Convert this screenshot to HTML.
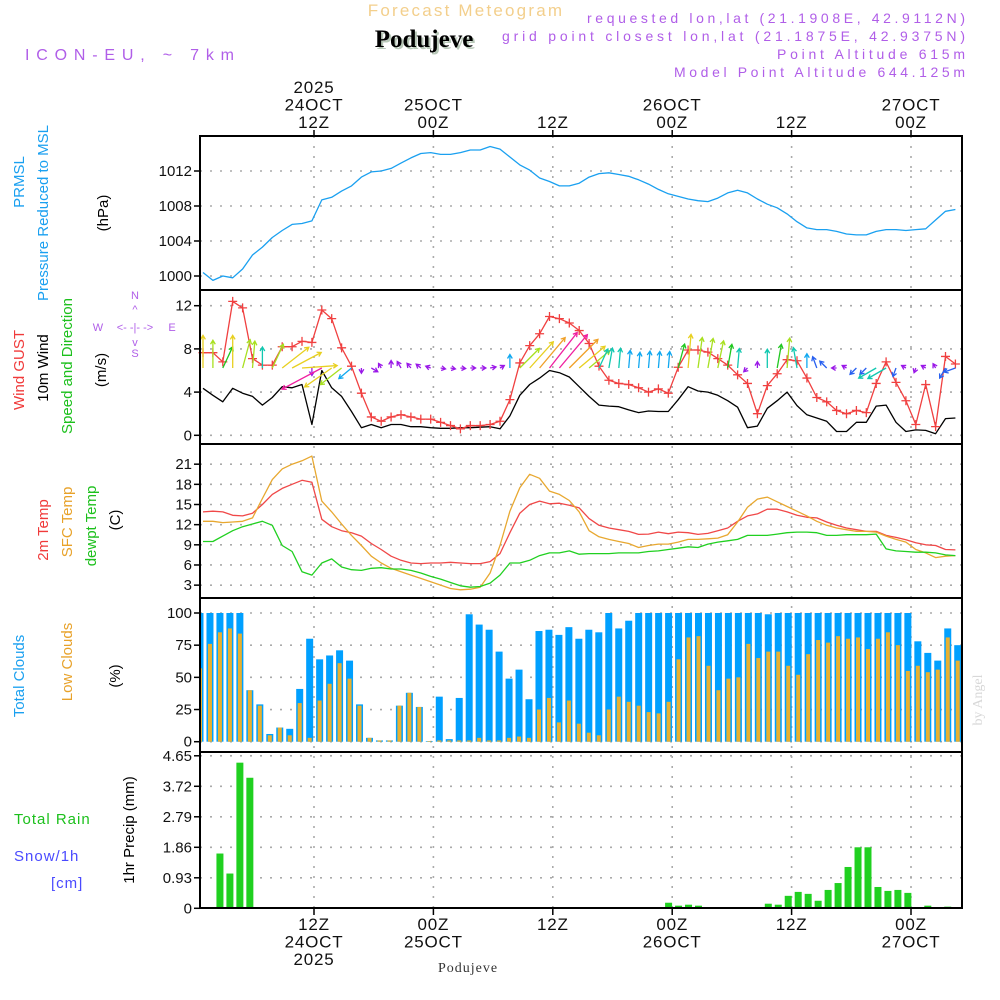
<!DOCTYPE html>
<html><head><meta charset="utf-8"><style>
html,body{margin:0;padding:0;background:#fff;}
svg{display:block;font-family:"Liberation Sans",sans-serif;}
</style></head><body>
<svg id="chart" width="1000" height="1000" viewBox="0 0 1000 1000" xmlns="http://www.w3.org/2000/svg">
<g>
<text x="466" y="16" text-anchor="middle" font-size="17" fill="#f3cf8c" letter-spacing="2.2">Forecast Meteogram</text>
<text x="426" y="49" text-anchor="middle" font-size="25" font-weight="bold" font-family="Liberation Serif,serif" fill="#b8c8b8">Podujeve</text>
<text x="424" y="47" text-anchor="middle" font-size="25" font-weight="bold" font-family="Liberation Serif,serif" fill="#000">Podujeve</text>
<text x="25" y="60" font-size="16" fill="#b05ee8" textLength="209" lengthAdjust="spacing">ICON-EU, ~ 7km</text>
<g font-size="14" fill="#b05ee8">
<text x="587" y="23" textLength="378" lengthAdjust="spacing">requested lon,lat (21.1908E, 42.9112N)</text>
<text x="502" y="41" textLength="463" lengthAdjust="spacing">grid point closest lon,lat (21.1875E, 42.9375N)</text>
<text x="777" y="59" textLength="188" lengthAdjust="spacing">Point Altitude 615m</text>
<text x="674" y="77" textLength="291" lengthAdjust="spacing">Model Point Altitude 644.125m</text>
</g>
</g>
<g id="grid"></g>
<g id="marks"></g>
<g id="frames"></g>
<g id="axes" font-size="15" fill="#111"></g>
<g font-size="15">
<text transform="translate(24,182) rotate(-90)" text-anchor="middle" fill="#1aa0f0">PRMSL</text>
<text transform="translate(48,213) rotate(-90)" text-anchor="middle" fill="#1aa0f0">Pressure Reduced to MSL</text>
<text transform="translate(108,213) rotate(-90)" text-anchor="middle" fill="#000">(hPa)</text>
<text transform="translate(24,370) rotate(-90)" text-anchor="middle" fill="#f03a3a">Wind GUST</text>
<text transform="translate(48,368) rotate(-90)" text-anchor="middle" fill="#000">10m Wind</text>
<text transform="translate(72,366) rotate(-90)" text-anchor="middle" fill="#1cc01c">Speed and Direction</text>
<text transform="translate(106,370) rotate(-90)" text-anchor="middle" fill="#000">(m/s)</text>
<g fill="#b05ee8" font-size="11" text-anchor="middle">
<text x="98" y="331">W</text><text x="172" y="331">E</text><text x="135" y="299">N</text><text x="135" y="357">S</text>
<text x="135" y="331">&lt;- -|- -&gt;</text>
<text x="135" y="313">^</text><text x="135" y="346">v</text>
</g>
<text transform="translate(48,530) rotate(-90)" text-anchor="middle" fill="#f03a3a">2m Temp</text>
<text transform="translate(72,522) rotate(-90)" text-anchor="middle" fill="#e8a22a">SFC Temp</text>
<text transform="translate(96,526) rotate(-90)" text-anchor="middle" fill="#1cc01c">dewpt Temp</text>
<text transform="translate(120,520) rotate(-90)" text-anchor="middle" fill="#000">(C)</text>
<text transform="translate(24,676) rotate(-90)" text-anchor="middle" fill="#1aa0f0">Total Clouds</text>
<text transform="translate(72,662) rotate(-90)" text-anchor="middle" fill="#e8a22a">Low Clouds</text>
<text transform="translate(120,676) rotate(-90)" text-anchor="middle" fill="#000">(%)</text>
<text x="14" y="824" fill="#1cc01c" letter-spacing="1">Total  Rain</text>
<text x="14" y="861" fill="#4a4aff" letter-spacing="1">Snow/1h</text>
<text x="51" y="888" fill="#4a4aff" letter-spacing="1">[cm]</text>
<text transform="translate(134,830) rotate(-90)" text-anchor="middle" fill="#000">1hr Precip (mm)</text>
<text transform="translate(982,700) rotate(-90)" text-anchor="middle" fill="#d8d8d8" font-family="Liberation Serif,serif" font-size="14">by Angel</text>
<text x="468" y="972" text-anchor="middle" fill="#333" font-family="Liberation Serif,serif" font-size="14" letter-spacing="1">Podujeve</text>
</g>
<script>
// ---- data (hourly) ----
const pressure=[1000.4,999.5,1000.0,999.8,1000.8,1002.4,1003.3,1004.4,1005.2,1005.9,1006.0,1006.3,1008.7,1009.0,1009.7,1010.3,1011.3,1011.9,1012.0,1012.3,1012.9,1013.5,1014.0,1014.1,1013.9,1013.9,1014.1,1014.4,1014.4,1014.8,1014.5,1013.6,1012.7,1012.1,1011.2,1010.8,1010.3,1010.3,1010.6,1011.3,1011.7,1011.8,1011.6,1011.4,1011.0,1010.5,1009.9,1009.4,1009.1,1008.8,1008.6,1008.5,1008.9,1009.5,1009.8,1009.5,1008.8,1008.2,1007.8,1007.1,1006.2,1005.5,1005.3,1005.3,1005.1,1004.8,1004.7,1004.7,1005.1,1005.3,1005.3,1005.2,1005.3,1005.4,1006.4,1007.4,1007.6];
const gust=[7.65,7.65,6.8,12.4,11.8,7.1,6.5,6.5,8.2,8.2,8.7,8.6,11.6,10.8,8.1,6.4,3.9,1.7,1.3,1.7,1.9,1.7,1.5,1.5,1.2,0.9,0.6,0.9,0.9,1.0,1.3,3.3,6.7,8.3,9.4,11.0,10.8,10.4,9.7,8.5,6.4,5.1,4.8,4.7,4.4,4.0,4.3,3.9,6.3,7.9,7.9,7.7,7.1,6.5,5.6,4.8,2.0,4.6,5.7,7.0,6.9,5.3,3.5,3.1,2.3,2.0,2.3,2.1,4.8,6.8,4.9,3.2,1.0,4.7,0.8,7.3,6.6];
const wind10=[4.35,3.7,3.1,4.35,3.9,3.6,2.8,3.5,4.5,4.4,4.7,1.0,6.0,4.4,3.6,2.2,0.7,1.0,0.7,1.0,1.0,0.8,0.8,0.7,0.65,0.65,0.7,0.7,0.75,0.8,0.6,1.8,3.7,4.7,5.3,6.0,5.8,5.4,4.5,3.6,2.8,2.7,2.65,2.35,2.1,2.25,2.2,2.2,3.3,4.5,4.1,4.0,3.7,3.2,2.6,0.7,0.85,2.5,3.2,4.0,2.75,1.9,1.6,1.3,0.35,0.35,1.2,1.2,2.7,2.8,1.2,0.35,0.5,0.45,0.15,1.55,1.6];
const windDir=[0,0,25,0,15,5,0,25,52,62,86,180,242,235,232,230,180,120,330,0,330,320,310,290,100,100,95,90,90,80,60,0,45,42,40,38,40,45,50,50,25,10,5,5,5,5,5,5,15,5,8,10,12,10,5,225,0,0,10,5,350,0,340,315,270,300,225,225,240,240,200,300,200,300,330,210,250];
const temp2m=[13.9,14.0,13.9,13.4,13.3,13.7,15.0,16.5,17.4,18.0,18.6,18.3,12.8,11.7,11.1,10.8,10.3,9.2,8.3,7.3,6.7,6.3,6.2,6.3,6.3,6.4,6.3,6.2,6.2,6.5,7.7,10.8,13.7,15.0,15.5,15.1,15.2,14.9,14.5,12.9,11.9,11.5,11.25,11.0,10.55,10.6,10.9,10.65,10.9,10.8,10.55,10.7,11.1,11.5,12.5,13.3,13.6,14.3,14.3,13.9,13.4,13.1,13.0,12.4,11.9,11.5,11.25,11.0,11.0,10.4,10.1,9.75,9.3,9.0,8.9,8.3,8.25];
const tempSfc=[12.5,12.5,12.3,12.4,12.5,13.0,15.9,18.7,20.3,21.0,21.5,22.2,15.5,13.9,12.1,10.4,8.9,7.3,6.3,5.5,5.0,4.5,4.0,3.5,3.0,2.5,2.3,2.4,2.7,4.8,8.9,14.0,17.5,19.5,18.9,17.0,16.5,15.6,13.9,11.1,10.2,9.8,9.5,9.2,8.6,8.9,9.1,9.1,9.4,9.8,9.8,9.9,10.0,10.5,12.4,14.6,15.8,16.1,15.4,14.7,14.0,13.3,12.5,11.9,11.5,11.25,11.0,11.0,10.9,10.3,9.8,9.4,8.3,7.8,7.1,7.3,7.4];
const dewpt=[9.5,9.5,10.3,11.1,11.7,12.1,12.5,11.9,8.9,8.0,5.0,4.5,6.3,6.9,5.7,5.3,5.2,5.5,5.6,5.4,5.4,5.2,4.8,4.3,3.9,3.4,2.9,2.7,2.8,3.3,4.5,6.3,6.3,6.7,7.4,7.8,7.8,8.1,7.6,7.7,7.7,7.7,7.8,7.8,7.8,8.0,8.1,8.3,8.5,8.7,8.6,9.1,9.4,9.6,9.8,10.4,10.4,10.4,10.6,10.8,10.9,10.9,10.8,10.4,10.4,10.5,10.5,10.5,10.6,8.4,8.1,8.0,7.9,7.9,7.8,7.5,7.4];
const totalClouds=[100,100,100,100,100,40,29,6,11,10,41,80,64,67,71,63,29,3,1,1,28,38,27,0.5,35,2,34,99,91,87,70,49,56,33,86,87,83,89,80,87,85,100,88,94,100,100,100,100,100,100,100,100,100,100,100,100,100,99,100,100,100,100,100,100,100,100,100,100,100,100,100,100,78,69,63,88,75];
const lowClouds=[57,76,85,88,84,40,28,5,11,5,30,3,32,45,61,49,28,3,1,1,28,38,27,0.5,1,1,1,1,3,1,1,3,4,3,25,34,15,32,14,7,5,25,35,31,28,23,22,31,64,81,82,59,40,49,50,76,65,70,70,59,52,68,79,77,82,80,81,72,80,85,75,55,59,54,56,81,63];
const precip=[0,0,1.67,1.06,4.44,3.98,0,0,0,0,0,0,0,0,0.02,0,0,0,0,0,0,0,0,0,0,0,0,0,0,0,0,0,0,0,0,0,0,0,0,0,0,0,0,0,0,0,0,0.17,0.08,0.11,0.08,0.01,0,0,0,0,0,0.14,0.11,0.38,0.5,0.44,0.23,0.56,0.77,1.26,1.86,1.86,0.65,0.53,0.56,0.47,0,0.08,0,0.05,0.03];
const pressTicks=[1000,1004,1008,1012];
const windTicks=[0,4,8,12];
const tempTicks=[3,6,9,12,15,18,21];
const cloudTicks=[0,25,50,75,100];
const precipTicks=["0","0.93","1.86","2.79","3.72","4.65"];
const timeTickHours=[12,24,36,48,60,72];
const topLabels=[["2025","24OCT","12Z"],["","25OCT","00Z"],["","","12Z"],["","26OCT","00Z"],["","","12Z"],["","27OCT","00Z"]];
const botLabels=[["12Z","24OCT","2025"],["00Z","25OCT",""],["12Z","",""],["00Z","26OCT",""],["12Z","",""],["00Z","27OCT",""]];

// ---- scales ----
const X0=200,X1=962;
const xLine=k=>203+k*9.9;
const xBar=k=>200+k*9.97;
const xHour=h=>314+(h-12)*9.95;
const yP=v=>276-(v-1000)*8.75;
const yW=v=>435.3-v*10.8;
const yT=v=>605.3-v*6.72;
const yC=v=>741.7-v*1.287;
const yR=v=>908.3-v*32.8;
const panels=[[136,290],[290,444],[444,598],[598,752],[752,908]];
const NS="http://www.w3.org/2000/svg";
function mk(tag,parent,attrs){const e=document.createElementNS(NS,tag);for(const a in attrs)e.setAttribute(a,attrs[a]);parent.appendChild(e);return e;}
const grid=document.getElementById('grid'),marks=document.getElementById('marks'),frames=document.getElementById('frames'),axes=document.getElementById('axes');

timeTickHours.forEach(h=>{const x=xHour(h);
 const l=mk('line',grid,{x1:x,x2:x,y1:136,y2:908,stroke:'#aaa','stroke-width':1.6,'stroke-dasharray':'2 8'});
 
 });
function hgrid(ticks,scale,name){ticks.forEach(t=>{const y=scale(+t);
 const l=mk('line',grid,{x1:X0,x2:X1,y1:y,y2:y,stroke:'#aaa','stroke-width':1.6,'stroke-dasharray':'2 8'});
 
 });}
hgrid(pressTicks,yP,'pressure-gridline');hgrid(windTicks,yW,'wind-gridline');hgrid(tempTicks,yT,'temp-gridline');hgrid(cloudTicks,yC,'cloud-gridline');hgrid(precipTicks.slice(1),yR,'precip-gridline');

totalClouds.forEach((v,k)=>{const x=xBar(k),y=yC(v);
 const r=mk('rect',marks,{x:Math.max(X0,x-3.5),y:y,width:Math.min(7,x+3.5-X0),height:yC(0)-y,fill:'#00a0ff'});
 
 });
lowClouds.forEach((v,k)=>{const x=xBar(k),y=yC(v);
 const r=mk('rect',marks,{x:Math.max(X0,x-2),y:y,width:Math.min(4,x+2-X0),height:yC(0)-y,fill:'#e8b030'});
 
 });
precip.forEach((v,k)=>{if(v<=0)return;const x=xBar(k),y=yR(v);
 const r=mk('rect',marks,{x:x-3.5,y:y,width:7,height:yR(0)-y,fill:'#20d020'});
 
 });
function line(arr,ys,color,name,w){const d=arr.map((v,k)=>(k?'L':'M')+xLine(k).toFixed(1)+' '+ys(v).toFixed(1)).join('');
 const p=mk('path',marks,{d:d,fill:'none',stroke:color,'stroke-width':w||1.3,'stroke-linejoin':'round'});
 
 }
line(pressure,yP,'#1aa0f0','pressure-line');
line(wind10,yW,'#000','wind-speed-line');
line(gust,yW,'#f04040','gust-line');
gust.forEach((v,k)=>{const x=xLine(k),y=yW(v);
 const p=mk('path',marks,{d:`M${x-4.5} ${y}H${x+4.5}M${x} ${y-4.5}V${y+4.5}`,stroke:'#f04040','stroke-width':1.3});
 
 });
function wcol(s){if(s<1.2)return'#9a18e8';if(s<1.8)return'#2860f0';if(s<2.4)return'#10a8f0';if(s<3)return'#10c8b0';if(s<3.5)return'#20c820';if(s<4.2)return'#a8e020';if(s<4.8)return'#e8d020';if(s<5.6)return'#f0a028';return'#f020a0';}
wind10.forEach((s,k)=>{const x=xLine(k),y=368,L=Math.max(5,s*7.5),a=windDir[k]*Math.PI/180;
 const dx=Math.sin(a),dy=-Math.cos(a),x2=x+dx*L,y2=y+dy*L,h=4;
 const px=-dy,py=dx;
 const d=`M${x} ${y}L${x2} ${y2}M${x2-dx*h+px*h*0.6} ${y2-dy*h+py*h*0.6}L${x2} ${y2}L${x2-dx*h-px*h*0.6} ${y2-dy*h-py*h*0.6}`;
 const p=mk('path',marks,{d:d,fill:'none',stroke:wcol(s),'stroke-width':1.3});
 
 });
line(temp2m,yT,'#f04848','temp-2m-line');
line(tempSfc,yT,'#e8a830','temp-sfc-line');
line(dewpt,yT,'#20d020','dewpoint-line');

panels.forEach(([a,b])=>{const r=mk('rect',frames,{x:X0,y:a,width:X1-X0,height:b-a,fill:'none',stroke:'#000','stroke-width':2});
 
 });
function yaxis(ticks,scale,name){ticks.forEach(t=>{const y=scale(+t);
 const l=mk('line',axes,{x1:X0-6,x2:X0,y1:y,y2:y,stroke:'#000','stroke-width':1.5});
 
 
 const tx=mk('text',axes,{x:X0-8,y:y+5,'text-anchor':'end'});tx.textContent=t;
 
 });}
yaxis(pressTicks,yP,'pressure');yaxis(windTicks,yW,'wind');yaxis(tempTicks,yT,'temp');yaxis(cloudTicks,yC,'cloud');yaxis(precipTicks,yR,'precip');
timeTickHours.forEach((h,i)=>{const x=xHour(h);
 [0,1,2].forEach(j=>{const s=topLabels[i][j];if(!s)return;const t=mk('text',axes,{x:x,y:93+j*17.5,'text-anchor':'middle','font-size':17,'letter-spacing':0.8});t.textContent=s;
  
  });
 [0,1,2].forEach(j=>{const s=botLabels[i][j];if(!s)return;const t=mk('text',axes,{x:x,y:930+j*17.5,'text-anchor':'middle','font-size':17,'letter-spacing':0.8});t.textContent=s;
  
  });
 const l=mk('line',axes,{x1:x,x2:x,y1:130,y2:136,stroke:'#000','stroke-width':1.5});
 
 
 const l2=mk('line',axes,{x1:x,x2:x,y1:908,y2:915,stroke:'#000','stroke-width':1.5});
 
 });
</script>
</svg>
</body></html>
